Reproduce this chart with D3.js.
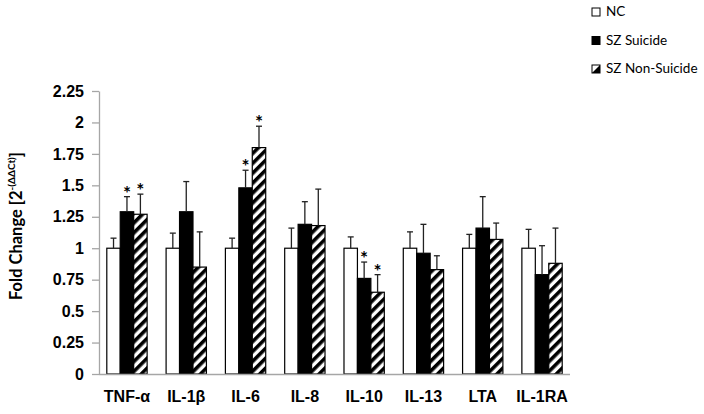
<!DOCTYPE html>
<html>
<head>
<meta charset="utf-8">
<script src="https://cdn.jsdelivr.net/npm/d3@7"></script>
<style>
  body { margin: 0; background: #fff; }
  svg { display: block; font-family: Lato, "Open Sans", sans-serif; }
  .axis path, .axis line { stroke: #a6a6a6; stroke-width: 1.3; }
  .axis text { fill: #000; font-weight: bold; font-size: 16px; }
</style>
</head>
<body>
<div id="chart"></div>
<script>
// data
const categories = ['TNF-α', 'IL-1β', 'IL-6', 'IL-8', 'IL-10', 'IL-13', 'LTA', 'IL-1RA'];
const seriesNames = ['NC', 'SZ Suicide', 'SZ Non-Suicide'];
const ncValues = [1, 1, 1, 1, 1, 1, 1, 1];
const ncErrors = [0.08, 0.12, 0.08, 0.16, 0.09, 0.13, 0.11, 0.15];
const suicideValues = [1.29, 1.29, 1.48, 1.19, 0.76, 0.96, 1.16, 0.79];
const suicideErrors = [0.12, 0.24, 0.14, 0.18, 0.13, 0.23, 0.25, 0.23];
const nonSuicideValues = [1.27, 0.85, 1.80, 1.18, 0.65, 0.83, 1.07, 0.88];
const nonSuicideErrors = [0.16, 0.28, 0.17, 0.29, 0.14, 0.11, 0.13, 0.28];
const suicideStars = ['TNF-α', 'IL-6', 'IL-10'];
const nonSuicideStars = ['TNF-α', 'IL-6', 'IL-10'];
const yTicks = [0, 0.25, 0.5, 0.75, 1, 1.25, 1.5, 1.75, 2, 2.25];

const width = 704, height = 414;
const margin = { top: 91, left: 99, bottom: 40 };
const plotRight = 570;

const svg = d3.select('#chart').append('svg')
    .attr('width', width)
    .attr('height', height);

// hatch pattern for SZ Non-Suicide
svg.append('defs').append('pattern')
    .attr('id', 'hatch')
    .attr('patternUnits', 'userSpaceOnUse')
    .attr('width', 7).attr('height', 7)
    .attr('patternTransform', 'rotate(45)')
    .call(p => {
        p.append('rect').attr('width', 7).attr('height', 7).attr('fill', '#fff');
        p.append('rect').attr('width', 3.6).attr('height', 7).attr('fill', '#000');
    });

const fills = ['#fff', '#000', 'url(#hatch)'];

const data = categories.map((c, i) => ({
    category: c,
    bars: [
        { series: seriesNames[0], value: ncValues[i], err: ncErrors[i], star: false },
        { series: seriesNames[1], value: suicideValues[i], err: suicideErrors[i], star: suicideStars.includes(c) },
        { series: seriesNames[2], value: nonSuicideValues[i], err: nonSuicideErrors[i], star: nonSuicideStars.includes(c) }
    ]
}));

// scales
const x0 = d3.scaleBand().domain(categories).range([margin.left - 0.5, plotRight + 0.5])
    .paddingInner(0.32).paddingOuter(0.14);
const x1 = d3.scaleBand().domain(seriesNames).range([0, x0.bandwidth()]);
const y = d3.scaleLinear().domain([0, 2.25]).range([374, margin.top]);
const color = d3.scaleOrdinal().domain(seriesNames).range(fills);

// y axis
svg.append('g').attr('class', 'axis axis-y')
    .attr('transform', `translate(${margin.left}, 0)`)
    .call(d3.axisLeft(y).tickValues(yTicks).tickSize(7).tickSizeOuter(0).tickPadding(8).tickFormat(d => String(d)));

// bars
const groups = svg.append('g').attr('class', 'bars')
    .selectAll('g').data(data).join('g')
    .attr('transform', d => `translate(${x0(d.category)}, 0)`);

groups.selectAll('rect').data(d => d.bars).join('rect')
    .attr('x', d => x1(d.series))
    .attr('y', d => y(d.value))
    .attr('width', x1.bandwidth())
    .attr('height', d => y(0) - y(d.value))
    .attr('fill', d => color(d.series))
    .attr('stroke', '#000')
    .attr('stroke-width', 1.2);

// error bars (upper only)
const cap = 3;
const err = groups.selectAll('g.err').data(d => d.bars).join('g').attr('class', 'err')
    .attr('stroke', '#222').attr('stroke-width', 1.3);
err.append('line')
    .attr('x1', d => x1(d.series) + x1.bandwidth() / 2)
    .attr('x2', d => x1(d.series) + x1.bandwidth() / 2)
    .attr('y1', d => y(d.value))
    .attr('y2', d => y(d.value + d.err));
err.append('line')
    .attr('x1', d => x1(d.series) + x1.bandwidth() / 2 - cap)
    .attr('x2', d => x1(d.series) + x1.bandwidth() / 2 + cap)
    .attr('y1', d => y(d.value + d.err))
    .attr('y2', d => y(d.value + d.err));

// significance stars
groups.selectAll('text.star').data(d => d.bars.filter(b => b.star)).join('text')
    .attr('class', 'star')
    .attr('x', d => x1(d.series) + x1.bandwidth() / 2)
    .attr('y', d => y(d.value + d.err) + 3)
    .attr('text-anchor', 'middle')
    .style('font-size', '19px')
    .style('font-weight', 'bold')
    .text('*');

// x axis
const xAxis = svg.append('g').attr('class', 'axis axis-x')
    .attr('transform', `translate(0, ${y(0)})`)
    .call(d3.axisBottom(x0).tickSize(0).tickPadding(17));
xAxis.select('.domain').attr('d', `M${margin.left},0.5H${plotRight}`);

// y axis title
const yTitle = svg.append('text')
    .attr('transform', 'translate(22, 226) rotate(-90)')
    .attr('text-anchor', 'middle')
    .style('font-size', '16.5px')
    .style('font-weight', 'bold');
yTitle.append('tspan').text('Fold Change [2');
yTitle.append('tspan').attr('dy', -7).style('font-size', '10px').text('-(ΔΔCt)');
yTitle.append('tspan').attr('dy', 7).text(']');

// legend
const legend = svg.append('g').attr('class', 'legend')
    .selectAll('g').data(seriesNames).join('g')
    .attr('transform', (d, i) => `translate(592, ${16 + i * 28.5})`);
legend.append('rect')
    .attr('x', 0).attr('y', -8).attr('width', 8).attr('height', 8)
    .attr('fill', '#fff').attr('stroke', '#000').attr('stroke-width', 1);
legend.filter(d => d === 'SZ Suicide').select('rect').attr('fill', '#000');
legend.filter(d => d === 'SZ Non-Suicide').append('path')
    .attr('d', 'M8,-8L8,0L0,0Z').attr('fill', '#000');
legend.append('text')
    .attr('x', 14).attr('y', 0)
    .style('font-size', '13.5px')
    .text(d => d);
</script>
</body>
</html>
